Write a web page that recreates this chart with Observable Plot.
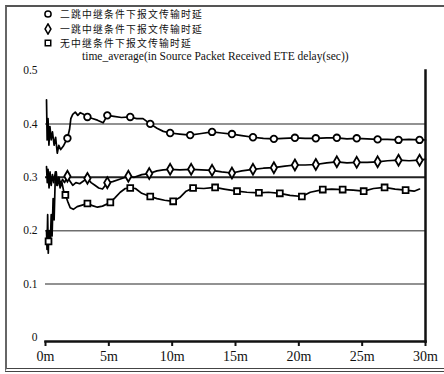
<!DOCTYPE html>
<html><head><meta charset="utf-8">
<script src="https://cdn.jsdelivr.net/npm/d3@7"></script>
<script src="https://cdn.jsdelivr.net/npm/@observablehq/plot@0.6"></script>
<style>
html,body{margin:0;padding:0;background:#fff;}
#wrap{position:relative;width:444px;height:374px;overflow:hidden;background:#fff;}
#chart{position:absolute;left:0;top:0;}
#chart svg text{font-family:"Liberation Serif","DejaVu Serif",serif;}
#border{position:absolute;left:5px;top:5px;width:460px;height:361px;border-top:2px solid #555;border-left:2px solid #666;border-bottom:4px double #444;pointer-events:none;}
#legend{position:absolute;left:42px;top:7px;font-family:"Noto Sans CJK SC",sans-serif;font-size:9.8px;letter-spacing:1.2px;color:#111;}
#legend div{display:flex;align-items:center;height:14.5px;}
#legend span{display:inline-block;height:14px;line-height:14px;}
#legend svg{margin-right:6px;}
#title{position:absolute;left:82px;top:50px;font-family:"Liberation Serif","DejaVu Serif",serif;font-size:11.5px;line-height:13px;color:#111;white-space:nowrap;}
</style></head><body>
<div id="wrap"><div id="chart"></div><div id="border"></div><div id="legend"></div><div id="title"></div></div>
<script>
// ---- data (time in minutes, delay in seconds) ----
const seriesNames = ["二跳中继条件下报文传输时延", "一跳中继条件下报文传输时延", "无中继条件下报文传输时延"];
const seriesSymbols = ["circle", "diamond", "square"];
const chartTitle = "time_average(in Source Packet Received ETE delay(sec))";

const twoHop = [
[0.08,0.445],[0.13,0.37],[0.2,0.41],[0.27,0.36],[0.35,0.395],[0.45,0.37],[0.55,0.385],[0.68,0.36],[0.8,0.375],[0.93,0.345],[1.05,0.36],[1.2,0.352],[1.4,0.358],[1.55,0.365],[1.73,0.373],[1.9,0.39],[2.0,0.41],[2.15,0.418],[2.35,0.422],[2.55,0.416],[2.75,0.421],[3.0,0.418],[3.31,0.413],[3.7,0.41],[4.1,0.407],[4.55,0.402],[4.88,0.416],[5.4,0.414],[6.0,0.412],[6.69,0.413],[7.2,0.41],[7.7,0.41],[8.27,0.40],[8.8,0.392],[9.3,0.386],[9.84,0.383],[10.6,0.381],[11.42,0.379],[12.3,0.382],[13.15,0.385],[13.9,0.383],[14.72,0.381],[15.5,0.378],[16.38,0.375],[17.2,0.373],[18.03,0.372],[18.8,0.373],[19.69,0.374],[20.5,0.373],[21.34,0.373],[22.2,0.374],[23.0,0.374],[23.8,0.372],[24.57,0.373],[25.4,0.372],[26.22,0.371],[27.0,0.371],[27.87,0.37],[28.7,0.371],[29.53,0.37],[30.0,0.37]];
const twoHopMarks = [1.73,3.31,4.88,6.69,8.27,9.84,11.42,13.15,14.72,16.38,18.03,19.69,21.34,23.0,24.57,26.22,27.87,29.53];

const oneHop = [
[0.08,0.32],[0.14,0.29],[0.2,0.315],[0.28,0.28],[0.36,0.31],[0.45,0.285],[0.55,0.305],[0.65,0.29],[0.78,0.31],[0.9,0.285],[1.05,0.3],[1.2,0.288],[1.35,0.296],[1.5,0.29],[1.73,0.302],[1.95,0.292],[2.15,0.285],[2.4,0.29],[2.7,0.288],[3.0,0.293],[3.31,0.298],[3.6,0.29],[3.9,0.285],[4.2,0.28],[4.5,0.278],[4.88,0.29],[5.3,0.292],[5.8,0.296],[6.54,0.302],[7.0,0.3],[7.6,0.305],[8.19,0.307],[8.8,0.312],[9.3,0.314],[9.84,0.315],[10.6,0.314],[11.5,0.315],[12.3,0.314],[13.15,0.313],[13.9,0.31],[14.72,0.308],[15.5,0.312],[16.38,0.315],[17.2,0.317],[18.03,0.318],[18.9,0.321],[19.69,0.323],[20.5,0.323],[21.34,0.324],[22.2,0.327],[23.0,0.329],[23.8,0.327],[24.57,0.328],[25.4,0.328],[26.22,0.329],[27.0,0.331],[27.87,0.332],[28.7,0.331],[29.53,0.332],[30.0,0.334]];
const oneHopMarks = [1.73,3.31,4.88,6.54,8.19,9.84,11.5,13.15,14.72,16.38,18.03,19.69,21.34,23.0,24.57,26.22,27.87,29.53];

const noRelay = [
[0.08,0.2],[0.12,0.165],[0.17,0.23],[0.22,0.158],[0.24,0.18],[0.3,0.2],[0.38,0.175],[0.45,0.23],[0.52,0.19],[0.6,0.26],[0.68,0.22],[0.76,0.29],[0.85,0.31],[0.95,0.285],[1.05,0.3],[1.15,0.28],[1.3,0.29],[1.45,0.272],[1.57,0.267],[1.75,0.255],[1.95,0.243],[2.2,0.24],[2.5,0.245],[2.9,0.248],[3.31,0.251],[3.7,0.247],[4.1,0.244],[4.5,0.246],[5.12,0.253],[5.5,0.262],[5.9,0.272],[6.3,0.279],[6.69,0.28],[7.1,0.279],[7.6,0.27],[8.27,0.264],[8.8,0.26],[9.4,0.257],[10.08,0.255],[10.6,0.262],[11.1,0.274],[11.65,0.28],[12.5,0.279],[13.39,0.281],[14.1,0.278],[15.12,0.274],[15.9,0.272],[16.85,0.271],[17.6,0.272],[18.5,0.27],[19.3,0.266],[20.24,0.264],[20.9,0.272],[21.89,0.277],[22.6,0.278],[23.46,0.277],[24.3,0.276],[25.12,0.274],[25.9,0.279],[26.77,0.281],[27.6,0.278],[28.43,0.276],[29.1,0.274],[29.53,0.278]];
const noRelayMarks = [0.24,1.57,3.31,5.12,6.69,8.27,10.08,11.65,13.39,15.12,16.85,18.5,20.24,21.89,23.46,25.12,26.77,28.43];

const xTicks = [0, 5, 10, 15, 20, 25, 30];
const xTickLabels = ["0m", "5m", "10m", "15m", "20m", "25m", "30m"];
const yTicks = [0, 0.1, 0.2, 0.3, 0.4, 0.5];
const yTickLabels = ["0", "0.1", "0.2", "0.3", "0.4", "0.5"];
const gridLight = [0.1, 0.2, 0.4];
const gridDark = [0.3];

// ---- build tables ----
const seriesData = [twoHop, oneHop, noRelay];
const seriesMarks = [twoHopMarks, oneHopMarks, noRelayMarks];
const rows = seriesData.flatMap((arr, i) => arr.map(([t, v]) => ({series: seriesNames[i], t, v})));
const markRows = seriesData.flatMap((arr, i) =>
  arr.filter(([t]) => seriesMarks[i].includes(t)).map(([t, v]) => ({series: seriesNames[i], t, v})));

const serif = "Liberation Serif, DejaVu Serif, serif";
const plot = Plot.plot({
  width: 444, height: 374,
  marginLeft: 45, marginRight: 19, marginTop: 70, marginBottom: 33,
  insetBottom: 4,
  style: {fontFamily: serif, background: "transparent", color: "#111"},
  x: {domain: [0, 30], label: null},
  y: {domain: [0, 0.5], label: null},
  symbol: {domain: seriesNames, range: seriesSymbols},
  marks: [
    Plot.ruleY(gridLight, {stroke: "#6e6e6e", strokeWidth: 1.5}),
    Plot.ruleY(gridDark, {stroke: "#222", strokeWidth: 2}),
    Plot.line(rows, {x: "t", y: "v", z: "series", stroke: "#000", strokeWidth: 1.7}),
    Plot.dot(markRows, {x: "t", y: "v", symbol: "series", r: 3.3, fill: "#fff", stroke: "#000", strokeWidth: 1.8}),
    Plot.frame({anchor: "right", stroke: "#111", strokeWidth: 2.5}),
    Plot.frame({anchor: "bottom", stroke: "#111", strokeWidth: 2.5}),
    Plot.axisX({ticks: xTicks, tickFormat: d => xTickLabels[xTicks.indexOf(d)], tickSize: 5, tickPadding: 5, fontSize: 14, fontFamily: serif, strokeWidth: 2}),
    Plot.axisY({ticks: yTicks, tickFormat: d => yTickLabels[yTicks.indexOf(d)], tickSize: 0, tickPadding: 8, fontSize: 11.5, fontFamily: serif})
  ]
});
document.getElementById("chart").appendChild(plot);

// ---- legend ----
const legend = d3.select("#legend");
const symMap = {circle: d3.symbolCircle, diamond: d3.symbolDiamond, square: d3.symbolSquare};
seriesNames.forEach((name, i) => {
  const row = legend.append("div");
  const svg = row.append("svg").attr("width", 12).attr("height", 12);
  svg.append("path")
    .attr("transform", "translate(6,6)")
    .attr("d", d3.symbol(symMap[seriesSymbols[i]], 30)())
    .attr("fill", "#fff").attr("stroke", "#000").attr("stroke-width", 1.5);
  row.append("span").text(name);
});
document.getElementById("title").textContent = chartTitle;
</script>
</body></html>
